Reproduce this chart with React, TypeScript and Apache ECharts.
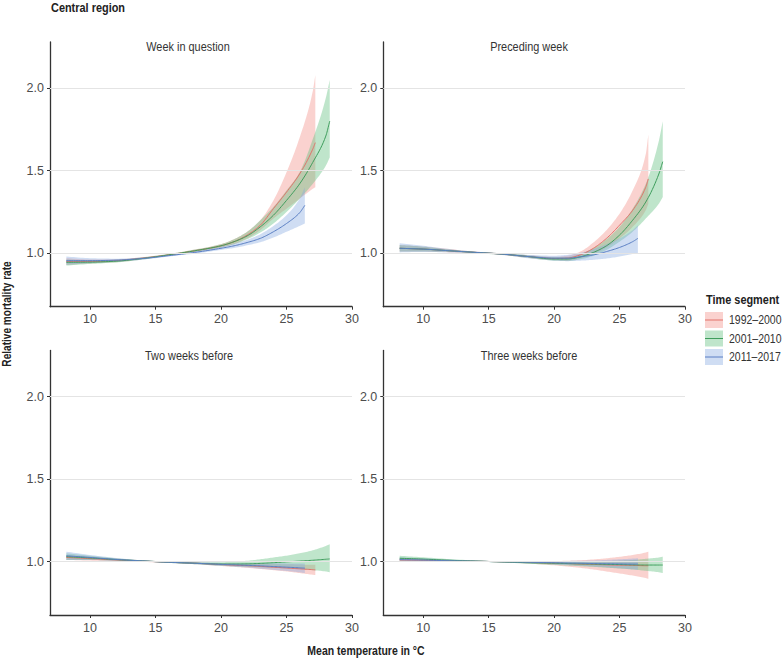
import React, { useEffect, useRef } from "react";
import * as echarts from "echarts";

// ---------- data ----------
const segments = ["1992–2000", "2001–2010", "2011–2017"];
const panelTitles = ["Week in question", "Preceding week", "Two weeks before", "Three weeks before"];
const yTicks = [1.0, 1.5, 2.0];
const xTicks = [10, 15, 20, 25, 30];

const tempRed = [8.2, 10, 12, 14, 16, 18, 20, 21, 22, 23, 24, 25, 26, 27, 27.2];
const tempGreen = [8.2, 10, 12, 14, 16, 18, 20, 21, 22, 23, 24, 25, 26, 27, 28, 28.3];
const tempBlue = [8.2, 10, 12, 14, 16, 18, 20, 21, 22, 23, 24, 25, 26, 26.4];

// Panel 1: week in question
const w0RedFit = [0.95, 0.95, 0.955, 0.97, 0.99, 1.015, 1.045, 1.07, 1.11, 1.17, 1.27, 1.37, 1.48, 1.63, 1.67];
const w0RedLo = [0.93, 0.938, 0.946, 0.963, 0.985, 1.008, 1.035, 1.055, 1.09, 1.14, 1.21, 1.27, 1.33, 1.39, 1.4];
const w0RedHi = [0.97, 0.962, 0.963, 0.976, 0.995, 1.022, 1.055, 1.085, 1.13, 1.2, 1.32, 1.49, 1.7, 1.98, 2.08];
const w0GreenFit = [0.945, 0.946, 0.952, 0.968, 0.99, 1.015, 1.045, 1.07, 1.105, 1.16, 1.23, 1.32, 1.42, 1.55, 1.71, 1.8];
const w0GreenLo = [0.925, 0.935, 0.944, 0.962, 0.985, 1.008, 1.035, 1.055, 1.085, 1.125, 1.18, 1.25, 1.33, 1.42, 1.53, 1.58];
const w0GreenHi = [0.962, 0.956, 0.96, 0.975, 0.995, 1.022, 1.055, 1.085, 1.13, 1.2, 1.28, 1.38, 1.49, 1.69, 1.94, 2.05];
const w0BlueFit = [0.955, 0.955, 0.958, 0.968, 0.985, 1.005, 1.03, 1.045, 1.065, 1.09, 1.13, 1.18, 1.245, 1.29];
const w0BlueLo = [0.93, 0.94, 0.948, 0.961, 0.98, 0.998, 1.02, 1.032, 1.048, 1.067, 1.095, 1.13, 1.165, 1.18];
const w0BlueHi = [0.98, 0.97, 0.967, 0.975, 0.99, 1.012, 1.04, 1.058, 1.082, 1.115, 1.165, 1.23, 1.33, 1.4];

// Panel 2: preceding week
const w1RedFit = [1.03, 1.025, 1.015, 1.005, 0.995, 0.98, 0.968, 0.97, 0.99, 1.03, 1.09, 1.17, 1.26, 1.4, 1.45];
const w1RedLo = [1.01, 1.01, 1.005, 1.0, 0.99, 0.972, 0.958, 0.955, 0.97, 0.995, 1.035, 1.09, 1.16, 1.26, 1.3];
const w1RedHi = [1.05, 1.04, 1.025, 1.01, 1.0, 0.988, 0.978, 0.985, 1.01, 1.065, 1.14, 1.24, 1.38, 1.6, 1.72];
const w1GreenFit = [1.03, 1.025, 1.015, 1.005, 0.995, 0.98, 0.965, 0.965, 0.978, 1.005, 1.045, 1.11, 1.2, 1.31, 1.48, 1.555];
const w1GreenLo = [1.01, 1.01, 1.008, 1.0, 0.99, 0.972, 0.955, 0.953, 0.963, 0.985, 1.02, 1.07, 1.13, 1.21, 1.3, 1.34];
const w1GreenHi = [1.05, 1.04, 1.022, 1.008, 1.0, 0.988, 0.975, 0.977, 0.995, 1.03, 1.085, 1.16, 1.27, 1.42, 1.68, 1.8];
const w1BlueFit = [1.03, 1.025, 1.015, 1.005, 0.995, 0.98, 0.97, 0.97, 0.978, 0.99, 1.01, 1.035, 1.07, 1.09];
const w1BlueLo = [1.005, 1.008, 1.005, 1.0, 0.99, 0.97, 0.955, 0.952, 0.955, 0.96, 0.968, 0.98, 0.995, 1.0];
const w1BlueHi = [1.06, 1.045, 1.025, 1.01, 1.0, 0.99, 0.985, 0.99, 1.003, 1.025, 1.055, 1.09, 1.14, 1.17];

// Panel 3: two weeks before
const w2RedFit = [1.025, 1.018, 1.01, 1.003, 0.996, 0.99, 0.982, 0.978, 0.975, 0.971, 0.966, 0.961, 0.956, 0.951, 0.95];
const w2RedLo = [1.01, 1.006, 1.002, 0.998, 0.992, 0.984, 0.973, 0.968, 0.962, 0.955, 0.948, 0.94, 0.93, 0.92, 0.918];
const w2RedHi = [1.04, 1.03, 1.018, 1.008, 1.0, 0.996, 0.99, 0.989, 0.988, 0.986, 0.985, 0.984, 0.982, 0.98, 0.98];
const w2GreenFit = [1.03, 1.022, 1.012, 1.004, 0.996, 0.99, 0.985, 0.985, 0.986, 0.989, 0.993, 0.998, 1.003, 1.008, 1.014, 1.016];
const w2GreenLo = [1.01, 1.01, 1.005, 1.0, 0.992, 0.984, 0.975, 0.971, 0.968, 0.965, 0.962, 0.959, 0.955, 0.948, 0.94, 0.935];
const w2GreenHi = [1.05, 1.035, 1.02, 1.008, 1.0, 0.996, 0.996, 1.0, 1.005, 1.014, 1.025, 1.036, 1.05, 1.068, 1.095, 1.105];
const w2BlueFit = [1.035, 1.025, 1.013, 1.004, 0.996, 0.99, 0.983, 0.98, 0.977, 0.974, 0.97, 0.966, 0.962, 0.96];
const w2BlueLo = [1.01, 1.01, 1.004, 1.0, 0.992, 0.984, 0.974, 0.969, 0.964, 0.957, 0.95, 0.943, 0.935, 0.93];
const w2BlueHi = [1.06, 1.04, 1.022, 1.008, 1.0, 0.996, 0.992, 0.991, 0.99, 0.99, 0.99, 0.989, 0.988, 0.988];

// Panel 4: three weeks before
const w3RedFit = [1.01, 1.008, 1.005, 1.002, 0.999, 0.995, 0.99, 0.988, 0.985, 0.983, 0.98, 0.978, 0.977, 0.975, 0.975];
const w3RedLo = [1.0, 1.0, 1.0, 0.999, 0.995, 0.988, 0.977, 0.97, 0.962, 0.952, 0.94, 0.928, 0.915, 0.9, 0.895];
const w3RedHi = [1.02, 1.016, 1.01, 1.005, 1.003, 1.002, 1.003, 1.005, 1.008, 1.013, 1.02, 1.029, 1.04, 1.055, 1.06];
const w3GreenFit = [1.02, 1.015, 1.008, 1.003, 0.998, 0.993, 0.99, 0.988, 0.986, 0.985, 0.983, 0.982, 0.98, 0.979, 0.979, 0.979];
const w3GreenLo = [1.005, 1.004, 1.001, 0.999, 0.994, 0.987, 0.98, 0.976, 0.972, 0.968, 0.963, 0.958, 0.952, 0.944, 0.935, 0.93];
const w3GreenHi = [1.035, 1.026, 1.015, 1.007, 1.002, 0.999, 0.998, 0.998, 0.998, 1.0, 1.003, 1.006, 1.01, 1.017, 1.025, 1.03];
const w3BlueFit = [1.012, 1.009, 1.005, 1.002, 0.999, 0.996, 0.993, 0.991, 0.99, 0.988, 0.987, 0.986, 0.985, 0.985];
const w3BlueLo = [1.0, 1.0, 0.998, 0.998, 0.995, 0.99, 0.983, 0.979, 0.975, 0.97, 0.965, 0.959, 0.953, 0.95];
const w3BlueHi = [1.025, 1.02, 1.012, 1.006, 1.003, 1.002, 1.003, 1.004, 1.005, 1.007, 1.01, 1.014, 1.018, 1.02];

const panelData = [
  [[w0RedFit, w0RedLo, w0RedHi], [w0GreenFit, w0GreenLo, w0GreenHi], [w0BlueFit, w0BlueLo, w0BlueHi]],
  [[w1RedFit, w1RedLo, w1RedHi], [w1GreenFit, w1GreenLo, w1GreenHi], [w1BlueFit, w1BlueLo, w1BlueHi]],
  [[w2RedFit, w2RedLo, w2RedHi], [w2GreenFit, w2GreenLo, w2GreenHi], [w2BlueFit, w2BlueLo, w2BlueHi]],
  [[w3RedFit, w3RedLo, w3RedHi], [w3GreenFit, w3GreenLo, w3GreenHi], [w3BlueFit, w3BlueLo, w3BlueHi]],
];
const segTemps = [tempRed, tempGreen, tempBlue];

// ---------- styling ----------
const FONT = "'Liberation Sans', Arial, sans-serif";
const NARROW = 0.84;
const bandColors = ["#f28e88", "#5fbf7e", "#86a9e0"];
const bandOpacity = [0.4, 0.4, 0.4];
const lineColors = ["#e2726b", "#3e9d5c", "#5a7fc4"];

const grids = [
  { left: 50, top: 42, width: 302, height: 264.7 },
  { left: 383.3, top: 42, width: 301.7, height: 264.7 },
  { left: 50, top: 350.5, width: 302, height: 264.5 },
  { left: 383.3, top: 350.5, width: 301.7, height: 264.5 },
];
const titlePos = [
  [188, 47],
  [529, 47],
  [189, 356],
  [529, 356],
];

// monotone cubic sampling of pixel points (rendering only)
function monotoneSample(pts: number[][], steps = 10): number[][] {
  const n = pts.length;
  if (n < 3) return pts;
  const dx: number[] = [];
  const m: number[] = [];
  for (let k = 0; k < n - 1; k++) {
    dx.push(pts[k + 1][0] - pts[k][0]);
    m.push((pts[k + 1][1] - pts[k][1]) / dx[k]);
  }
  const t: number[] = [m[0]];
  for (let k = 1; k < n - 1; k++) {
    if (m[k - 1] * m[k] <= 0) t.push(0);
    else {
      const w1 = 2 * dx[k] + dx[k - 1];
      const w2 = dx[k] + 2 * dx[k - 1];
      t.push((w1 + w2) / (w1 / m[k - 1] + w2 / m[k]));
    }
  }
  t.push(m[n - 2]);
  const out: number[][] = [];
  for (let k = 0; k < n - 1; k++) {
    const [x0, y0] = pts[k];
    const h = dx[k];
    for (let s = 0; s < steps; s++) {
      const u = s / steps;
      const h00 = 2 * u * u * u - 3 * u * u + 1;
      const h10 = u * u * u - 2 * u * u + u;
      const h01 = -2 * u * u * u + 3 * u * u;
      const h11 = u * u * u - u * u;
      out.push([x0 + u * h, h00 * y0 + h10 * h * t[k] + h01 * pts[k + 1][1] + h11 * h * t[k + 1]]);
    }
  }
  out.push(pts[n - 1]);
  return out;
}

function buildOption() {
  const xAxis: any[] = [];
  const yAxis: any[] = [];
  const series: any[] = [];
  const axisLineStyle = { color: "#333333", width: 1.3 };
  grids.forEach((g, i) => {
    xAxis.push({
      type: "value",
      gridIndex: i,
      min: 6.95,
      max: 30,
      axisLine: { show: true, onZero: false, lineStyle: axisLineStyle },
      axisTick: { show: true, length: 3, customValues: xTicks, lineStyle: { color: "#333333", width: 1 } },
      axisLabel: { customValues: xTicks, color: "#4d4d4d", fontSize: 12.5, fontFamily: FONT, margin: 6 },
      splitLine: { show: false },
    });
    yAxis.push({
      type: "value",
      gridIndex: i,
      min: 0.676,
      max: 2.28,
      axisLine: { show: true, onZero: false, lineStyle: axisLineStyle },
      axisTick: { show: true, length: 3, customValues: yTicks, lineStyle: { color: "#333333", width: 1 } },
      axisLabel: {
        customValues: yTicks,
        color: "#4d4d4d",
        fontSize: 12.5,
        fontFamily: FONT,
        margin: 6,
        formatter: (v: number) => v.toFixed(1),
      },
      splitLine: { show: false },
    });
    // gridlines
    series.push({
      type: "line",
      xAxisIndex: i,
      yAxisIndex: i,
      data: [[6.95, 1]],
      symbol: "none",
      lineStyle: { opacity: 0 },
      silent: true,
      z: 1,
      markLine: {
        silent: true,
        symbol: ["none", "none"],
        label: { show: false },
        lineStyle: { color: "#e4e4e4", width: 1, type: "solid" },
        data: yTicks.map((v) => ({ yAxis: v })),
        animation: false,
      },
    });
    // confidence bands
    panelData[i].forEach((seg, s) => {
      const temps = segTemps[s];
      const [, lo, hi] = seg;
      series.push({
        type: "custom",
        coordinateSystem: "cartesian2d",
        xAxisIndex: i,
        yAxisIndex: i,
        data: temps.map((x, k) => [x, lo[k], hi[k]]),
        encode: { x: 0, y: [1, 2] },
        silent: true,
        z: 2,
        renderItem: (params: any, api: any) => {
          if (params.dataIndex !== 0) return null;
          const up = temps.map((x, k) => api.coord([x, hi[k]]));
          const dn = temps.map((x, k) => api.coord([x, lo[k]]));
          const pts = monotoneSample(up).concat(monotoneSample(dn).reverse());
          return {
            type: "polygon",
            shape: { points: pts },
            style: { fill: bandColors[s], opacity: bandOpacity[s] },
          };
        },
      });
    });
    // fitted curves
    panelData[i].forEach((seg, s) => {
      const temps = segTemps[s];
      const fit = seg[0];
      series.push({
        type: "custom",
        name: segments[s],
        coordinateSystem: "cartesian2d",
        xAxisIndex: i,
        yAxisIndex: i,
        data: temps.map((x, k) => [x, fit[k]]),
        encode: { x: 0, y: 1 },
        silent: true,
        z: 3,
        renderItem: (params: any, api: any) => {
          if (params.dataIndex !== 0) return null;
          const pts = monotoneSample(temps.map((x, k) => api.coord([x, fit[k]])));
          return {
            type: "polyline",
            shape: { points: pts },
            style: { stroke: lineColors[s], lineWidth: 1, fill: null },
          };
        },
      });
    });
  });

  const graphic: any[] = [];
  const txt = (x: number, y: number, text: string, font: string, fill: string, align = "left") => ({
    type: "text",
    x,
    y,
    scaleX: NARROW,
    style: { text, fill, font, textAlign: align, textVerticalAlign: "middle" },
  });
  panelTitles.forEach((t, i) => {
    graphic.push(txt(titlePos[i][0], titlePos[i][1], t, `13px ${FONT}`, "#333333", "center"));
  });
  graphic.push(txt(51, 8, "Central region", `bold 13px ${FONT}`, "#222222"));
  graphic.push({
    type: "text",
    x: 7,
    y: 314,
    rotation: Math.PI / 2,
    scaleX: NARROW,
    style: {
      text: "Relative mortality rate",
      fill: "#222222",
      font: `bold 12px ${FONT}`,
      textAlign: "center",
      textVerticalAlign: "middle",
    },
  });
  graphic.push(txt(366, 651, "Mean temperature in °C", `bold 12.5px ${FONT}`, "#222222", "center"));
  // legend
  graphic.push(txt(706, 300, "Time segment", `bold 13px ${FONT}`, "#222222"));
  segments.forEach((name, s) => {
    const cy = 320 + s * 18.5;
    graphic.push({
      type: "rect",
      shape: { x: 705, y: cy - 8, width: 18, height: 16 },
      style: { fill: bandColors[s], opacity: bandOpacity[s] },
    });
    graphic.push({
      type: "line",
      shape: { x1: 705, y1: cy, x2: 723, y2: cy },
      style: { stroke: lineColors[s], lineWidth: 1 },
    });
    graphic.push(txt(729, cy, name, `12.5px ${FONT}`, "#333333"));
  });

  return {
    animation: false,
    backgroundColor: "#ffffff",
    grid: grids,
    xAxis,
    yAxis,
    series,
    graphic,
  };
}

export default function App() {
  const ref = useRef<HTMLDivElement>(null);
  useEffect(() => {
    if (!ref.current) return;
    const chart = echarts.init(ref.current, undefined, { renderer: "svg" });
    chart.setOption(buildOption() as any);
    return () => chart.dispose();
  }, []);
  return <div ref={ref} style={{ position: "fixed", left: 0, top: 0, width: 783, height: 658 }} />;
}
